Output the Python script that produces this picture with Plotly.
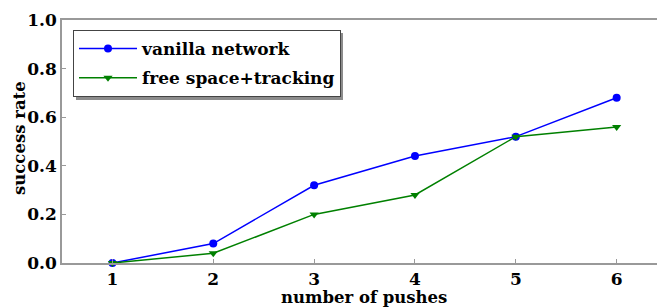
import plotly.graph_objects as go

pushes = [1, 2, 3, 4, 5, 6]
vanilla = [0.0, 0.08, 0.32, 0.44, 0.52, 0.68]
free_space = [0.0, 0.04, 0.20, 0.28, 0.52, 0.56]
x_ticks = [1, 2, 3, 4, 5, 6]
y_ticks = [0.0, 0.2, 0.4, 0.6, 0.8, 1.0]
y_tick_labels = ["0.0", "0.2", "0.4", "0.6", "0.8", "1.0"]

FONT = "DejaVu Serif"
W, H = 657, 308
L, R, T, B = 62, 0, 20, 45
PW, PH = W - L - R, H - T - B


def px(x):
    return (x - L) / PW


def py(y):
    return (H - B - y) / PH


fig = go.Figure()
fig.add_trace(go.Scatter(
    x=pushes, y=vanilla, name="<b>vanilla network</b>", mode="lines+markers",
    line=dict(color="#0000ff", width=1.5),
    marker=dict(symbol="circle", size=8, color="#0000ff"),
    cliponaxis=False, legendgroup="a",
))
fig.add_trace(go.Scatter(
    x=pushes, y=free_space, name="<b>free space+tracking</b>", mode="lines+markers",
    line=dict(color="#008000", width=1.5),
    marker=dict(symbol="triangle-down", size=8, color="#008000"),
    cliponaxis=False, legendgroup="b",
))

axis_common = dict(
    showgrid=False, zeroline=False, showline=True, linecolor="#999999", linewidth=1.5,
    ticks="inside", ticklen=4, tickcolor="#999999", automargin=False,
    tickfont=dict(family=FONT, size=17, color="black"),
)

fig.update_xaxes(
    range=[0.5, 6.4], tickvals=x_ticks, ticktext=["<b>%d</b>" % v for v in x_ticks],
    mirror=True, **axis_common,
)
fig.update_yaxes(
    range=[0, 1.0], tickvals=y_ticks, ticktext=["<b>%s</b>" % t for t in y_tick_labels],
    mirror=False, **axis_common,
)

# axis titles
fig.add_annotation(text="<b>number of pushes</b>", xref="paper", yref="paper",
                   x=px(364), y=py(297), xanchor="center", yanchor="middle",
                   showarrow=False, font=dict(family=FONT, size=16.5, color="black"))
fig.add_annotation(text="<b>success rate</b>", xref="paper", yref="paper",
                   x=px(19), y=py(138), xanchor="center", yanchor="middle", textangle=-90,
                   showarrow=False, font=dict(family=FONT, size=16.5, color="black"))

# legend shadow
fig.add_shape(type="rect", xref="paper", yref="paper",
              x0=px(76), x1=px(343), y0=py(100), y1=py(33),
              fillcolor="#8c8c8c", line=dict(width=0), layer="above")

fig.update_layout(
    width=W, height=H,
    margin=dict(l=L, r=R, t=T, b=B),
    paper_bgcolor="white", plot_bgcolor="white",
    font=dict(family=FONT, color="black"),
    legend=dict(
        x=px(73), y=py(30), xanchor="left", yanchor="top",
        bgcolor="white", bordercolor="#444444", borderwidth=1,
        font=dict(family=FONT, size=17, color="black"),
        itemwidth=58, traceorder="grouped", tracegroupgap=4,
    ),
    showlegend=True,
)

fig.write_html("out.html", config={"displayModeBar": False},
               post_script="document.body.style.margin='0';document.body.style.padding='0';")
